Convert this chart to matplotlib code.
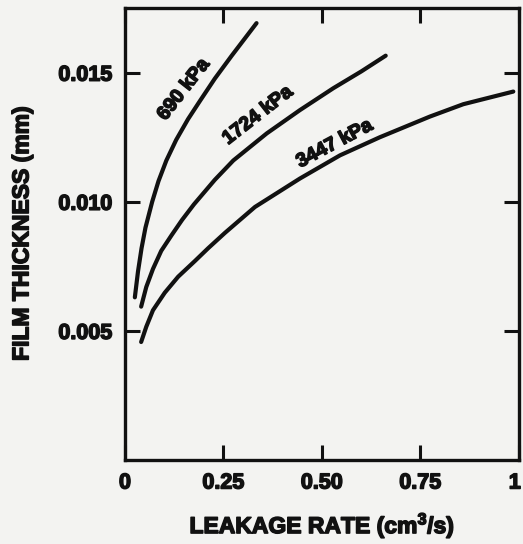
import matplotlib
matplotlib.use("Agg")
import matplotlib.pyplot as plt
import matplotlib.patheffects as pe
from matplotlib.transforms import ScaledTranslation

plt.rcParams['font.family'] = ['Liberation Sans', 'DejaVu Sans']
plt.rcParams['font.weight'] = 'bold'
plt.rcParams['mathtext.fontset'] = 'custom'
plt.rcParams['mathtext.rm'] = 'Liberation Sans:bold'
plt.rcParams['mathtext.bf'] = 'Liberation Sans:bold'

# Leakage rate (cm^3/s) vs film thickness (mm) for three supply pressures
x_690 = [0.025, 0.033, 0.042, 0.052, 0.069, 0.085, 0.105, 0.130, 0.160, 0.190, 0.228, 0.271, 0.334]
y_690 = [0.0063, 0.0073, 0.0082, 0.0090, 0.0100, 0.0108, 0.0116, 0.0124, 0.0132, 0.0139, 0.01477, 0.01566, 0.01692]

x_1724 = [0.041, 0.054, 0.071, 0.092, 0.118, 0.145, 0.175, 0.228, 0.275, 0.360, 0.444, 0.529, 0.600, 0.662]
y_1724 = [0.00594, 0.0067, 0.0074, 0.0081, 0.0087, 0.0093, 0.0099, 0.01085, 0.01160, 0.01265, 0.01355, 0.01440, 0.01505, 0.01566]

x_3447 = [0.041, 0.054, 0.071, 0.101, 0.135, 0.177, 0.211, 0.254, 0.330, 0.444, 0.546, 0.647, 0.774, 0.859, 0.986]
y_3447 = [0.00457, 0.00516, 0.0058, 0.00648, 0.0071, 0.0077, 0.0082, 0.0088, 0.0098, 0.0109, 0.0118, 0.0125, 0.0133, 0.01378, 0.01427]

curve_labels = ['690 kPa', '1724 kPa', '3447 kPa']
label_x = [0.150, 0.338, 0.533]
label_y = [0.01433, 0.01333, 0.01223]
label_rot = [52, 38, 28]

x_ticks = [0, 0.25, 0.50, 0.75, 1.0]
x_ticklabels = ['0', '0.25', '0.50', '0.75', '1']
y_ticks = [0.005, 0.010, 0.015]
y_ticklabels = ['0.005', '0.010', '0.015']

paper = '#f3f3f1'
ink = '#111111'
heavy = [pe.withStroke(linewidth=1.1, foreground=ink)]

fig = plt.figure(figsize=(5.23, 5.44), dpi=100, facecolor=paper)
ax = fig.add_axes([0.239, 0.1544, 0.753, 0.8306])
ax.set_facecolor(paper)

for xs, ys in [(x_690, y_690), (x_1724, y_1724), (x_3447, y_3447)]:
    ax.plot(xs, ys, color=ink, lw=3.0, solid_capstyle='round', solid_joinstyle='round')

for txt, lx, ly, rot in zip(curve_labels, label_x, label_y, label_rot):
    ax.text(lx, ly, txt, rotation=rot, rotation_mode='anchor', ha='center', va='center',
            fontsize=14, fontweight='bold', color=ink, path_effects=heavy)

ax.set_xlim(0, 1.0)
ax.set_ylim(0, 0.0175)
ax.set_xticks(x_ticks)
ax.set_xticklabels(x_ticklabels)
ax.set_yticks(y_ticks)
ax.set_yticklabels(y_ticklabels)

ax.tick_params(axis='both', direction='in', length=11, width=2.2, color=ink,
               top=True, right=True, labelsize=15.5, labelcolor=ink, pad=9)
for lab in ax.get_xticklabels() + ax.get_yticklabels():
    lab.set_fontweight('bold')
    lab.set_path_effects(heavy)
# keep the last x tick label inside the figure edge
last = ax.get_xticklabels()[-1]
last.set_transform(last.get_transform() + ScaledTranslation(-4 / 100, 0, fig.dpi_scale_trans))

for sp in ax.spines.values():
    sp.set_linewidth(2.4)
    sp.set_color(ink)

ax.set_xlabel(r'LEAKAGE RATE (cm$^{3}$/s)', fontsize=16.5, fontweight='bold', color=ink,
              labelpad=12, path_effects=heavy)
ax.set_ylabel('FILM THICKNESS (mm)', fontsize=16.5, fontweight='bold', color=ink,
              labelpad=18, path_effects=heavy)

fig.savefig('out.png', dpi=100, facecolor=paper)
